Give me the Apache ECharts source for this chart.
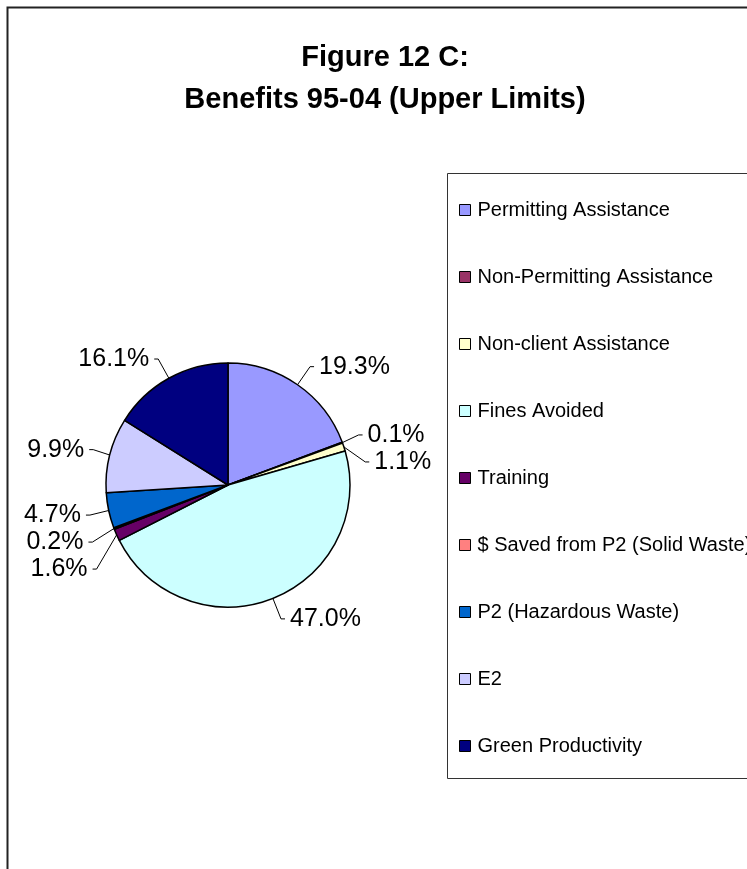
<!DOCTYPE html>
<html>
<head>
<meta charset="utf-8">
<script src="https://cdn.jsdelivr.net/npm/echarts@6/dist/echarts.min.js"></script>
<style>
  html, body { margin: 0; padding: 0; background: #fff; }
  #pie_chart { width: 747px; height: 869px; }
</style>
</head>
<body>
<div id="pie_chart"></div>
<script>
// 各项收益所占比例 (%)
var categories = ['Permitting Assistance', 'Non-Permitting Assistance', 'Non-client Assistance',
    'Fines Avoided', 'Training', '$ Saved from P2 (Solid Waste)', 'P2 (Hazardous Waste)',
    'E2', 'Green Productivity'];
var shares = [19.3, 0.1, 1.1, 47.0, 1.6, 0.2, 4.7, 9.9, 16.1];
var colors = ['#9999FF', '#993366', '#FFFFCC', '#CCFFFF', '#660066', '#FF8080', '#0066CC', '#CCCCFF', '#000080'];

var pieData = [];
for (var i = 0; i < categories.length; i++) {
    pieData.push({ name: categories[i], value: shares[i] });
}

var myChart = echarts.init(document.getElementById('pie_chart'));
myChart.setOption({
    animation: false,
    color: colors,
    textStyle: { fontFamily: 'Liberation Sans, Arial, sans-serif' },
    title: {
        text: 'Figure 12 C:\nBenefits 95-04 (Upper Limits)',
        left: 380,
        top: 32,
        textAlign: 'center',
        textStyle: {
            fontSize: 29,
            fontWeight: 'bold',
            color: '#000',
            lineHeight: 42,
            fontFamily: 'Liberation Sans, Arial, sans-serif'
        }
    },
    legend: {
        orient: 'vertical',
        left: 454,
        top: 195,
        icon: 'rect',
        itemWidth: 11,
        itemHeight: 11,
        itemGap: 47,
        data: categories,
        itemStyle: { borderColor: '#000', borderWidth: 1 },
        textStyle: { fontSize: 20, lineHeight: 20, color: '#000', padding: [0, 0, 0, 2] }
    },
    graphic: [{
        // 外框
        type: 'rect',
        shape: { x: 7.5, y: 7.5, width: 800, height: 900 },
        style: { fill: 'none', stroke: '#222', lineWidth: 2 },
        silent: true
    }, {
        // 图例框
        type: 'rect',
        shape: { x: 447.5, y: 173.5, width: 400, height: 605 },
        style: { fill: 'none', stroke: '#333', lineWidth: 1 },
        silent: true
    }],
    series: [{
        type: 'pie',
        center: [228, 485],
        radius: 122,
        startAngle: 90,
        clockwise: true,
        avoidLabelOverlap: true,
        data: pieData,
        itemStyle: { borderColor: '#000', borderWidth: 1.5 },
        label: {
            show: true,
            formatter: function (p) { return p.value.toFixed(1) + '%'; },
            fontSize: 25,
            color: '#000',
            fontFamily: 'Liberation Sans, Arial, sans-serif'
        },
        labelLine: {
            show: true,
            length: 22,
            length2: 4,
            lineStyle: { color: '#000', width: 1 }
        }
    }]
});
</script>
</body>
</html>
